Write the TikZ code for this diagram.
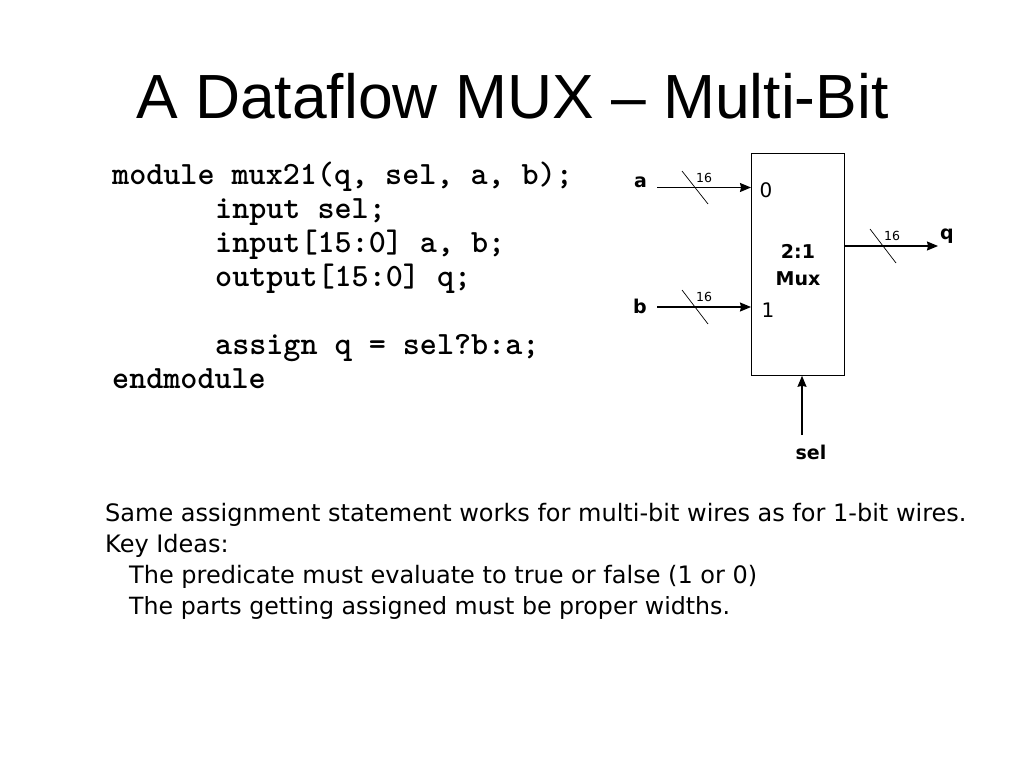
\documentclass[tikz,border=0pt]{standalone}
\usepackage{fontspec}
\setmainfont{Liberation Sans}
\newfontfamily\comicfont{DejaVu Sans}
\usetikzlibrary{arrows.meta,calc}
\tikzset{
 pxs/.style={x=1pt,y=-1pt},
 lbl/.style={inner sep=0pt,anchor=base west},
 conn/.style={draw=black,line width=1.2pt,-{Stealth[length=11pt,width=9pt,inset=1pt]}},
 tick/.style={draw=black,line width=0.7pt},
 code/.style={lbl,font=\fontsize{32.5}{32.5}\selectfont\bfseries\ttfamily},
 body/.style={lbl,font=\fontsize{24}{24}\selectfont\comicfont},
 pin/.style={inner sep=0pt,font=\fontsize{19}{27}\selectfont\bfseries\comicfont},
 port/.style={inner sep=0pt,font=\fontsize{20}{20}\selectfont\comicfont},
 width/.style={inner sep=0pt,font=\fontsize{12.5}{12.5}\selectfont\comicfont}
}
\begin{document}
\begin{tikzpicture}[pxs]
\useasboundingbox (0,0) rectangle (1024,768);
\node[lbl,font=\fontsize{62.4}{62.4}\selectfont] (title) at (136,118) {A Dataflow MUX – Multi-Bit};
\node[code] (c1) at (112,184) {module mux21(q, sel, a, b);};
\node[code] (c2) at (215,218) {input sel;};
\node[code] (c3) at (215,252) {input[15:0] a, b;};
\node[code] (c4) at (215,286) {output[15:0] q;};
\node[code] (c5) at (215,354) {assign q = sel?b:a;};
\node[code] (c6) at (112,388) {endmodule};
\node[draw=black,line width=0.8pt,minimum width=93pt,minimum height=222pt,inner sep=0pt,anchor=north west] (mux) at (751,153) {};
\node[port] (zero) at (766,190.5) {0};
\node[port] (one) at (768,310) {1};
\node[pin,align=center] (mt) at (798,265.5) {2:1\\Mux};
\node[pin] (a) at (640.5,182) {a};
\node[pin] (b) at (640,306) {b};
\node[pin] (q) at (947,236) {q};
\node[pin] (sel) at (811,452) {sel};
\coordinate (ain) at (657,187.5);
\coordinate (bin) at (657,307);
\coordinate (qout) at (938,246);
\coordinate (sin) at (802,435);
\draw[conn] (ain) -- (ain -| mux.west);
\draw[conn] (bin) -- (bin -| mux.west);
\draw[conn] (qout -| mux.east) -- (qout);
\draw[conn] (sin) -- (sin |- mux.south);
\coordinate (t1a) at (682,171); \coordinate (t1b) at (708,204);
\coordinate (t2a) at (682,290); \coordinate (t2b) at (708,324);
\coordinate (t3a) at (870,229); \coordinate (t3b) at (896,263);
\draw[tick] (t1a) -- (t1b);
\draw[tick] (t2a) -- (t2b);
\draw[tick] (t3a) -- (t3b);
\node[width] (w1) at (704,178) {16};
\node[width] (w2) at (704,297) {16};
\node[width] (w3) at (892,236) {16};
\node[body] (p1) at (105,521) {Same assignment statement works for multi-bit wires as for 1-bit wires.};
\node[body] (p2) at (105,552) {Key Ideas:};
\node[body] (p3) at (129,583) {The predicate must evaluate to true or false (1 or 0)};
\node[body,font=\fontsize{23.7}{24}\selectfont\comicfont] (p4) at (129,614) {The parts getting assigned must be proper widths.};
\end{tikzpicture}
\end{document}
